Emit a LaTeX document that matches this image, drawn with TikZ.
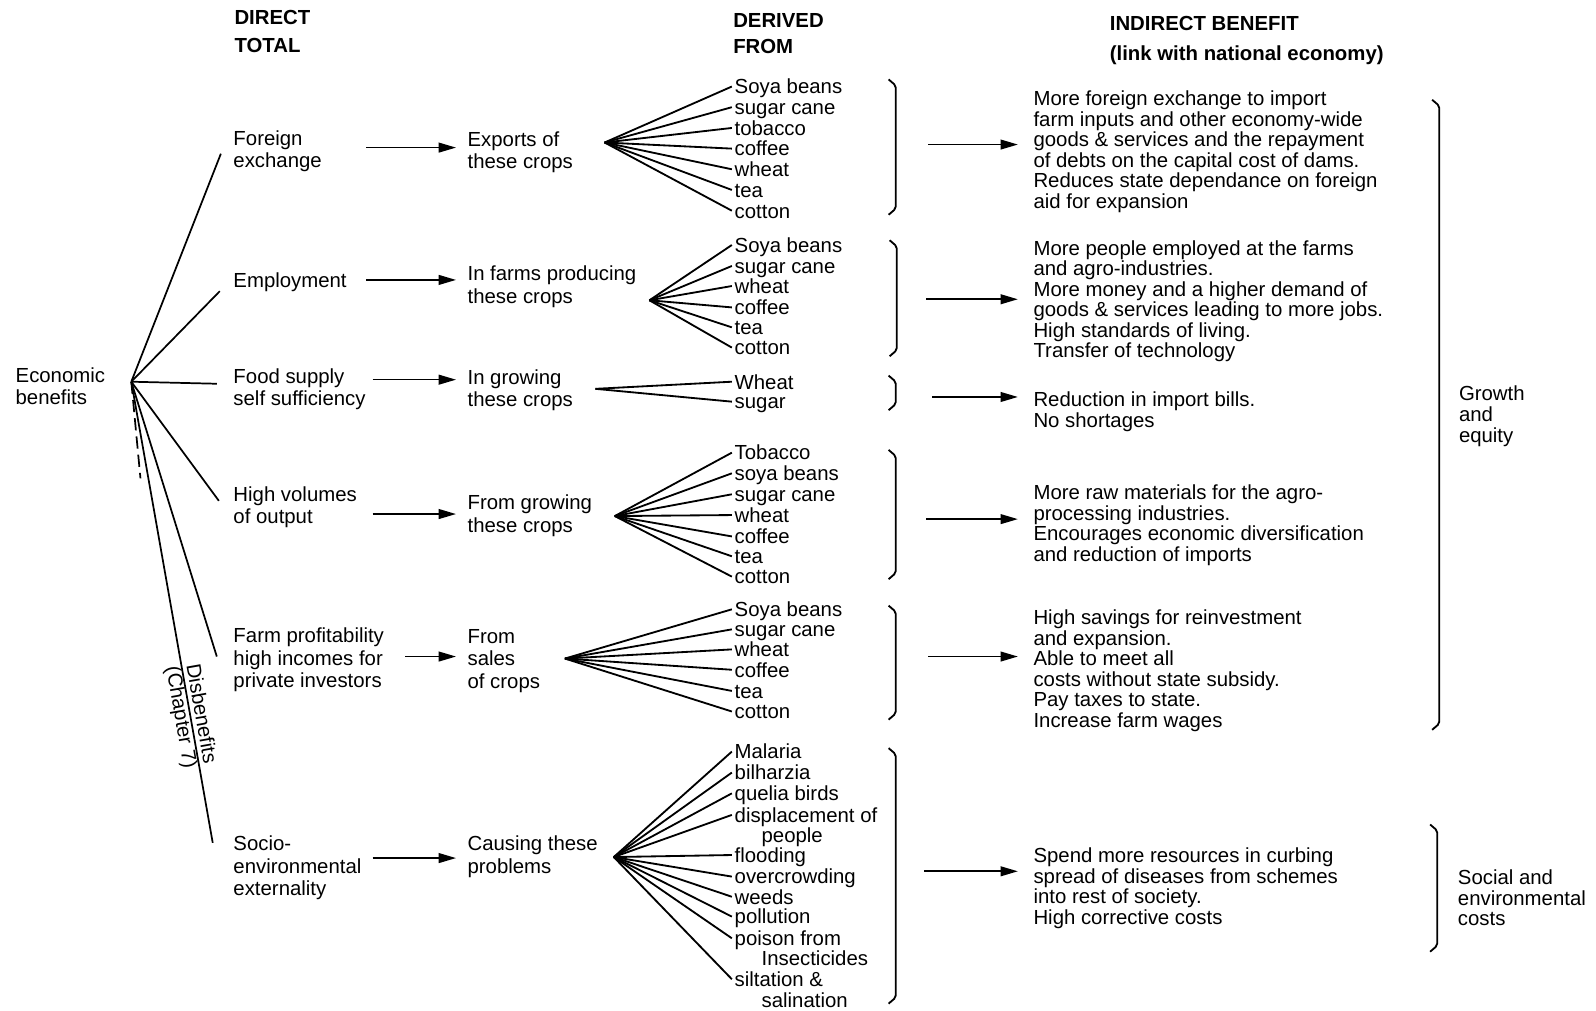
\documentclass[tikz,border=0pt]{standalone}
\usepackage{fontspec}
\setmainfont{Liberation Sans}
\usetikzlibrary{arrows.meta,calc}
\newcommand\mybrace[3]{\draw[brc] (#1-7,#2) -- (#1,#2+6) -- (#1,#3-6) -- (#1-7,#3);}
\begin{document}
\begin{tikzpicture}[x=0.5pt,y=-0.5pt,
  txt/.style={anchor=north west, inner sep=0pt, align=left, font=\fontsize{10}{11}\selectfont},
  ind/.style={anchor=north west, inner sep=0pt, align=left, font=\fontsize{10}{10.1}\selectfont},
  hdr/.style={anchor=north west, inner sep=0pt, align=left, font=\bfseries\fontsize{10}{13.5}\selectfont},
  item/.style={anchor=west, inner xsep=1.2pt, inner ysep=0pt, text height=7.2pt, text depth=0pt, font=\fontsize{10}{10}\selectfont},
  ln/.style={line width=0.85pt},
  fan/.style={line width=0.9pt},
  arr/.style={line width=0.8pt, -{Triangle[length=8.5pt,width=4.8pt]}},
  brc/.style={line width=0.9pt, rounded corners=1pt},
]
\useasboundingbox (0,0) rectangle (1568,993);

% headers
\node[hdr] (hd1) at (230,9.8) {DIRECT\\TOTAL};
\node[hdr, font=\bfseries\fontsize{10}{13}\selectfont] (hd2) at (720,12.8) {DERIVED\\FROM};
\node[hdr, font=\bfseries\fontsize{10}{14.5}\selectfont] (hd3) at (1090,15.8) {INDIRECT BENEFIT\\(link with national economy)};

% column 1
\node[txt] (eb) at (15,360.8) {Economic\\benefits};
\coordinate (hub) at (129,375);

% column 2
\node[txt] (c1) at (229,127.8) {Foreign\\exchange};
\node[txt] (c2) at (229,267.8) {Employment};
\node[txt] (c3) at (229,361.8) {Food supply\\self sufficiency};
\node[txt] (c4) at (229,477.8) {High volumes\\of output};
\node[txt] (c5) at (229,616.8) {Farm profitability\\high incomes for\\private investors};
\node[txt] (c6) at (229,820.8) {Socio-\\environmental\\externality};

\coordinate (f1) at (217,151);
\coordinate (f2) at (216,286);
\coordinate (f3) at (213,377);
\coordinate (f4) at (215,492);
\coordinate (f5) at (213,645);
\coordinate (f6) at (209,828);
\coordinate (fd) at (138,470);

\draw[ln] (hub) -- (f1);
\draw[ln] (hub) -- (f2);
\draw[ln] (hub) -- (f3);
\draw[ln] (hub) -- (f4);
\draw[ln] (hub) -- (f5);
\draw[ln] (hub) -- node[pos=0.724, sloped, align=center, inner sep=0pt, font=\fontsize{10}{10}\selectfont] (dis) {Disbenefits\\(Chapter 7)} (f6);
\draw[ln, dash pattern=on 6pt off 3pt] (hub) -- (fd);

% column 3
\node[txt] (e1) at (459,128.8) {Exports of\\these crops};
\node[txt] (e2) at (459,260.8) {In farms producing\\these crops};
\node[txt] (e3) at (459,362.8) {In growing\\these crops};
\node[txt] (e4) at (459,485.8) {From growing\\these crops};
\node[txt] (e5) at (459,617.8) {From\\sales\\of crops};
\node[txt] (e6) at (459,820.8) {Causing these\\problems};

\coordinate (a1) at (360,145);
\coordinate (a2) at (360,275);
\coordinate (a3) at (366,373);
\coordinate (a4) at (366,505);
\coordinate (a5) at (398,645);
\coordinate (a6) at (366,843);
\draw[arr, shorten >=5.5pt] (a1) -- (a1 -| e1.west);
\draw[arr, shorten >=5.5pt] (a2) -- (a2 -| e2.west);
\draw[arr, shorten >=5.5pt] (a3) -- (a3 -| e3.west);
\draw[arr, shorten >=5.5pt] (a4) -- (a4 -| e4.west);
\draw[arr, shorten >=5.5pt] (a5) -- (a5 -| e5.west);
\draw[arr, shorten >=5.5pt] (a6) -- (a6 -| e6.west);

% derived-from items
\coordinate (h1) at (594,140);
\coordinate (h2) at (638,295);
\coordinate (h3) at (585,382);
\coordinate (h4) at (604,507);
\coordinate (h5) at (555,647);
\coordinate (h6) at (603,842);

\node[item] (r1a) at (719,85) {Soya beans};
\node[item] (r1b) at (719,105.3) {sugar cane};
\node[item] (r1c) at (719,125.7) {tobacco};
\node[item] (r1d) at (719,146) {coffee};
\node[item] (r1e) at (719,166.3) {wheat};
\node[item] (r1f) at (719,186.6) {tea};
\node[item] (r1g) at (719,207) {cotton};
\foreach \n in {r1a,r1b,r1c,r1d,r1e,r1f,r1g} \draw[fan] (h1) -- (\n.west);

\node[item] (r2a) at (719,240.7) {Soya beans};
\node[item] (r2b) at (719,261.3) {sugar cane};
\node[item] (r2c) at (719,281) {wheat};
\node[item] (r2d) at (719,302) {coffee};
\node[item] (r2e) at (719,321.6) {tea};
\node[item] (r2f) at (719,341.5) {cotton};
\foreach \n in {r2a,r2b,r2c,r2d,r2e,r2f} \draw[fan] (h2) -- (\n.west);

\node[item] (r3a) at (719,375) {Wheat};
\node[item] (r3b) at (719,394.6) {sugar};
\foreach \n in {r3a,r3b} \draw[fan] (h3) -- (\n.west);

\node[item] (r4a) at (719,444.7) {Tobacco};
\node[item] (r4b) at (719,465) {soya beans};
\node[item] (r4c) at (719,485.6) {sugar cane};
\node[item] (r4d) at (719,506) {wheat};
\node[item] (r4e) at (719,527) {coffee};
\node[item] (r4f) at (719,546.5) {tea};
\node[item] (r4g) at (719,566.5) {cotton};
\foreach \n in {r4a,r4b,r4c,r4d,r4e,r4f,r4g} \draw[fan] (h4) -- (\n.west);

\node[item] (r5a) at (719,598.6) {Soya beans};
\node[item] (r5b) at (719,618.3) {sugar cane};
\node[item] (r5c) at (719,638) {wheat};
\node[item] (r5d) at (719,658) {coffee};
\node[item] (r5e) at (719,678.8) {tea};
\node[item] (r5f) at (719,699) {cotton};
\foreach \n in {r5a,r5b,r5c,r5d,r5e,r5f} \draw[fan] (h5) -- (\n.west);

\node[item] (r6a) at (719,738.4) {Malaria};
\node[item] (r6b) at (719,759) {bilharzia};
\node[item] (r6c) at (719,779.4) {quelia birds};
\node[item] (r6d) at (719,800.6) {displacement of};
\node[item] (r6d2) at (745.5,820.3) {people};
\node[item] (r6e) at (719,840) {flooding};
\node[item] (r6f) at (719,861.2) {overcrowding};
\node[item] (r6g) at (719,881) {weeds};
\node[item] (r6h) at (719,900.5) {pollution};
\node[item] (r6i) at (719,921.8) {poison from};
\node[item] (r6i2) at (745.5,941.4) {Insecticides};
\node[item] (r6j) at (719,962) {siltation \&};
\node[item] (r6j2) at (745.5,982.4) {salination};
\foreach \n in {r6a,r6b,r6c,r6d,r6e,r6f,r6g,r6h,r6i,r6j} \draw[fan] (h6) -- (\n.west);

% braces of derived-from lists
\mybrace{880}{78}{211}
\mybrace{881}{236}{350}
\mybrace{880}{369}{403}
\mybrace{880}{442}{569}
\mybrace{880}{595}{707}
\mybrace{880}{735}{986}

% indirect benefits
\node[ind] (i1) at (1015,88.8) {More foreign exchange to import\\farm inputs and other economy-wide\\goods \& services and the repayment\\of debts on the capital cost of dams.\\Reduces state dependance on foreign\\aid for expansion};
\node[ind] (i2) at (1015,235.8) {More people employed at the farms\\and agro-industries.\\More money and a higher demand of\\goods \& services leading to more jobs.\\High standards of living.\\Transfer of technology};
\node[ind] (i3) at (1015,384.8) {Reduction in import bills.\\No shortages};
\node[ind] (i4) at (1015,475.8) {More raw materials for the agro-\\processing industries.\\Encourages economic diversification\\and reduction of imports};
\node[ind] (i5) at (1015,598.8) {High savings for reinvestment\\and expansion.\\Able to meet all\\costs without state subsidy.\\Pay taxes to state.\\Increase farm wages};
\node[ind] (i6) at (1015,832.8) {Spend more resources in curbing\\spread of diseases from schemes\\into rest of society.\\High corrective costs};

\coordinate (b1) at (912,142);
\coordinate (b2) at (910,294);
\coordinate (b3) at (916,390);
\coordinate (b4) at (910,510);
\coordinate (b5) at (912,645);
\coordinate (b6) at (908,856);
\draw[arr, shorten >=7.5pt] (b1) -- (b1 -| i1.west);
\draw[arr, shorten >=7.5pt] (b2) -- (b2 -| i2.west);
\draw[arr, shorten >=7.5pt] (b3) -- (b3 -| i3.west);
\draw[arr, shorten >=7.5pt] (b4) -- (b4 -| i4.west);
\draw[arr, shorten >=7.5pt] (b5) -- (b5 -| i5.west);
\draw[arr, shorten >=7.5pt] (b6) -- (b6 -| i6.west);

% outcome braces and labels
\mybrace{1414}{98}{717}
\mybrace{1412}{810}{935}
\node[ind, font=\fontsize{10}{10.25}\selectfont] (ge) at (1433,378.8) {Growth\\and\\equity};
\node[ind, font=\fontsize{10}{10.25}\selectfont] (se) at (1432,853.8) {Social and\\environmental\\costs};
\end{tikzpicture}
\end{document}
